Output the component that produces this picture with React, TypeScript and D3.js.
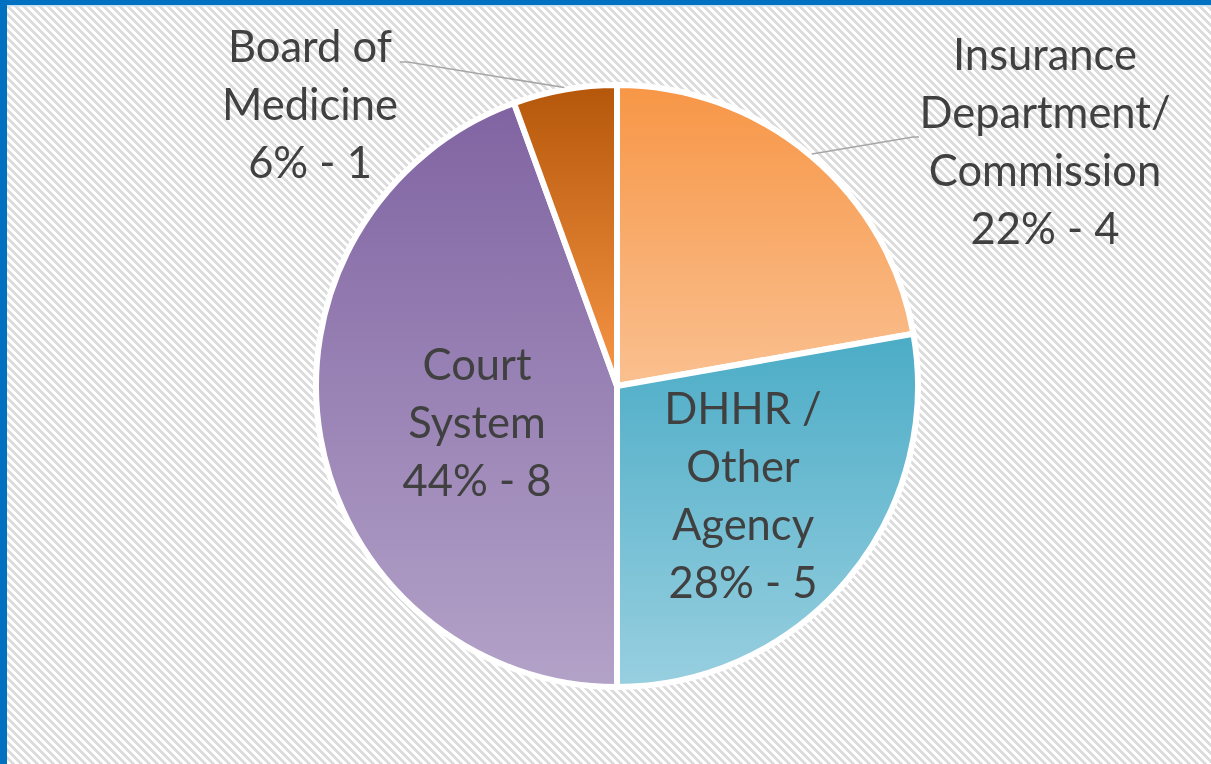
import React from "react";
import * as d3 from "d3";

const categories = ["Insurance Department/ Commission", "DHHR / Other Agency", "Court System", "Board of Medicine"];
const values = [4, 5, 8, 1];
const percentLabels = ["22%", "28%", "44%", "6%"];
const labelLines = [
  ["Insurance", "Department/", "Commission", "22% - 4"],
  ["DHHR /", "Other", "Agency", "28% - 5"],
  ["Court", "System", "44% - 8"],
  ["Board of", "Medicine", "6% - 1"],
];
const gradientTop = ["#F79646", "#4BACC6", "#8064A2", "#B5570A"];
const gradientBottom = ["#FAC090", "#98CFE0", "#B3A2C8", "#F79646"];

// layout (offsets from pie center)
const W = 1211, H = 764;
const cx = 617, cy = 386, R = 301;
const labelOffsets: [number, number][] = [[428, -244], [126, 110], [-140, 37], [-307, -281]];
const leaderEnds: ([number, number][] | null)[] = [
  [[296, -249], [302, -249]],
  null,
  null,
  [[-209, -324], [-217, -324]],
];

const hatchCells: [number, number][] = [];
for (let y = 0; y < 8; y++) for (let k = 0; k < 4; k++) hatchCells.push([(y + k) % 8, y]);

export default function App() {
  const pie = d3.pie<number>().sort(null).startAngle(0).endAngle(2 * Math.PI);
  const arcs = pie(values);
  const arc = d3.arc<d3.PieArcDatum<number>>().innerRadius(0).outerRadius(R);
  const fontSize = 43.5;
  const lineH = 58;
  return (
    <div style={{ position: "fixed", left: 0, top: 0 }}>
      <svg width={W} height={H} style={{ display: "block" }}>
        <defs>
          <pattern id="hatch" width={8} height={8} patternUnits="userSpaceOnUse">
            <rect width={8} height={8} fill="#ffffff" />
            {hatchCells.map(([x, y], i) => (
              <rect key={i} x={x} y={y} width={1} height={1} fill="#DCDCDC" shapeRendering="crispEdges" />
            ))}
          </pattern>
          {arcs.map((a, i) => (
            <linearGradient key={i} id={`g${i}`} x1="0" y1="0" x2="0" y2="1">
              <stop offset="0" stopColor={gradientTop[i]} />
              <stop offset="1" stopColor={gradientBottom[i]} />
            </linearGradient>
          ))}
        </defs>
        <rect width={W} height={H} fill="url(#hatch)" />
        <rect x={0} y={0} width={W} height={5} fill="#0070C0" />
        <rect x={0} y={5} width={W} height={1.5} fill="#C9DDF0" />
        <rect x={0} y={0} width={7} height={H} fill="#0070C0" />
        <g transform={`translate(${cx},${cy})`}>
          {arcs.map((a, i) => (
            <path key={i} d={arc(a) || ""} fill={`url(#g${i})`} stroke="#ffffff" strokeWidth={6} strokeLinejoin="miter">
              <title>{`${categories[i]}: ${percentLabels[i]} - ${values[i]}`}</title>
            </path>
          ))}
          {arcs.map((a, i) => {
            const pts = leaderEnds[i];
            if (!pts) return null;
            const mid = (a.startAngle + a.endAngle) / 2;
            const start: [number, number] = [Math.sin(mid) * (R + 2), -Math.cos(mid) * (R + 2)];
            const line = d3.line()([start, ...pts]);
            return <path key={"l" + i} d={line || ""} fill="none" stroke="#A6A6A6" strokeWidth={1.5} />;
          })}
          {arcs.map((a, i) => {
            const lines = labelLines[i];
            const [ox, oy] = labelOffsets[i];
            const y0 = oy - ((lines.length - 1) * lineH) / 2;
            return (
              <text key={"t" + i} x={ox} textAnchor="middle" fontFamily="Lato, 'Open Sans', sans-serif" fontSize={fontSize} fill="#404040">
                {lines.map((s, j) => (
                  <tspan key={j} x={ox} y={y0 + j * lineH} dy="0.35em">{s}</tspan>
                ))}
              </text>
            );
          })}
        </g>
      </svg>
    </div>
  );
}
